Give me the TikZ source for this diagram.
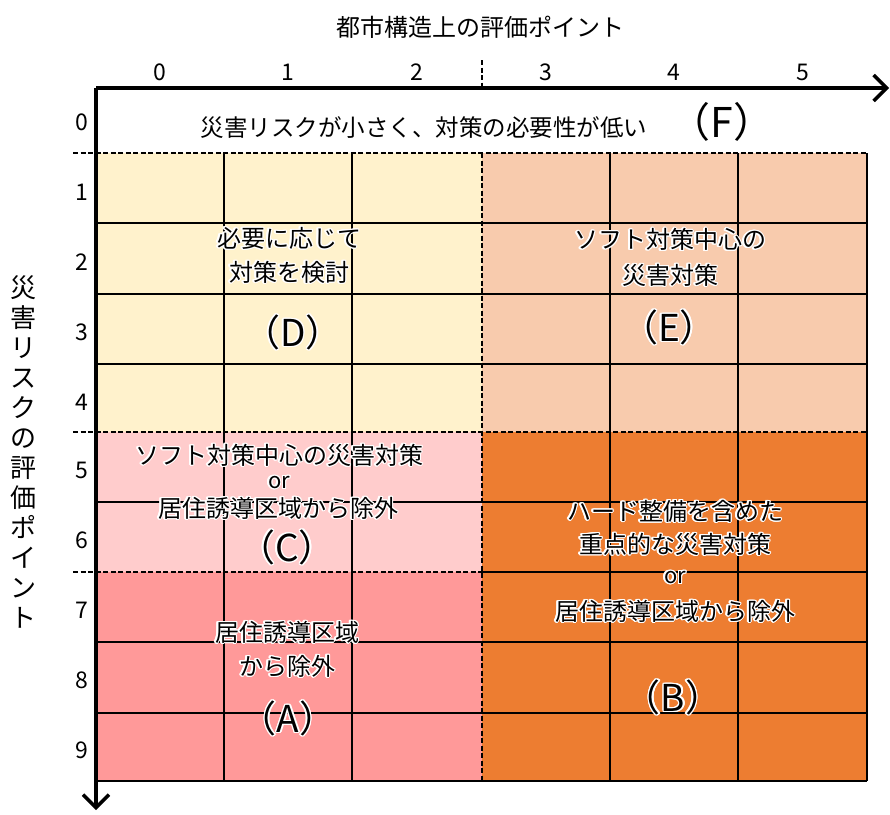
\documentclass[tikz,border=0pt]{standalone}
\usepackage{fontspec}
\setmainfont{Noto Sans CJK JP}
\usepackage[copies]{contour}
\contourlength{1.3pt}
\usetikzlibrary{arrows.meta}
\definecolor{cD}{HTML}{FFF2CC}
\definecolor{cE}{HTML}{F8CBAD}
\definecolor{cC}{HTML}{FFCCCC}
\definecolor{cA}{HTML}{FF9999}
\definecolor{cB}{HTML}{ED7D31}
\newcommand\hl[1]{\contour{white}{#1}}
\begin{document}
\begin{tikzpicture}[x=1pt,y=-1pt,
  gridline/.style={line width=1.4pt},
  divline/.style={line width=2.4pt, dash pattern=on 5pt off 2.5pt},
  axisline/.style={line width=4.5pt, -{Straight Barb[length=13pt,width=26pt,line width=3.5pt]}},
  lbl/.style={inner sep=0pt, font=\fontsize{24}{28}\selectfont},
  orlbl/.style={inner sep=0pt, font=\fontsize{22}{26}\selectfont},
  big/.style={inner sep=0pt, font=\fontsize{37}{42}\selectfont},
  num/.style={inner sep=0pt, font=\fontsize{23}{26}\selectfont}]
\useasboundingbox (0,0) rectangle (890,814);
% region fills
\fill[cD] (96,153) rectangle (482,432);
\fill[cE] (482,153) rectangle (867,432);
\fill[cC] (96,432) rectangle (482,572);
\fill[cA] (96,572) rectangle (482,781);
\fill[cB] (482,432) rectangle (867,781);
% grid lines
\foreach \x in {224,352,610,738,867} \draw[gridline] (\x,153) -- (\x,781);
\foreach \y in {223,294,364,502,642,713} \draw[gridline] (96,\y) -- (867,\y);
\draw[gridline] (482,572) -- (867,572);
\draw[gridline] (96,781) -- (867,781);
% dashed dividers
\draw[divline] (73,153) -- (867,153);
\draw[divline] (73,432) -- (867,432);
\draw[divline] (73,572) -- (482,572);
\draw[divline] (482,153) -- (482,781);
\draw[divline] (482,60) -- (482,88);
% axes
\coordinate (o) at (96,88);
\coordinate (xend) at (889,88);
\coordinate (yend) at (96,810);
\draw[axisline] (o) -- (xend);
\draw[axisline] (o) -- (yend);
% axis titles
\node[lbl] (xtitle) at (480,27) {都市構造上の評価ポイント};
\node[inner sep=0pt, align=center, font=\fontsize{26}{30}\selectfont] (ytitle) at (23,452)
  {災\\害\\リ\\ス\\ク\\の\\評\\価\\ポ\\イ\\ン\\ト};
% column numbers
\foreach \i/\x in {0/160,1/288,2/417,3/546,4/674,5/803}
  \node[num] (c\i) at (\x,72) {\i};
% row numbers
\foreach \i/\y in {0/122,1/192,2/262,3/332,4/402,5/470,6/540,7/610,8/680,9/750}
  \node[num] (r\i) at (82,\y) {\i};
% F
\node[lbl, font=\fontsize{23.5}{28}\selectfont] (ftext) at (424,128) {災害リスクが小さく、対策の必要性が低い};
\node[big, font=\fontsize{41}{46}\selectfont] (fl) at (722,122) {（F）};
% D
\node[lbl] (d1) at (289,239) {\hl{必要に応じて}};
\node[lbl] (d2) at (289,273) {\hl{対策を検討}};
\node[big] (dl) at (293,333) {\hl{（D）}};
% E
\node[lbl] (e1) at (670,240) {\hl{ソフト対策中心の}};
\node[lbl] (e2) at (670,276) {\hl{災害対策}};
\node[big] (el) at (669,328) {\hl{（E）}};
% C
\node[lbl] (c1t) at (279,456) {\hl{ソフト対策中心の災害対策}};
\node[orlbl] (c2t) at (279,483) {\hl{or}};
\node[lbl] (c3t) at (278,509) {\hl{居住誘導区域から除外}};
\node[big] (cl) at (287,548) {\hl{（C）}};
% A
\node[lbl] (a1) at (287,633) {\hl{居住誘導区域}};
\node[lbl] (a2) at (287,667) {\hl{から除外}};
\node[big] (al) at (288,719) {\hl{（A）}};
% B
\node[lbl] (b1) at (675,512) {\hl{ハード整備を含めた}};
\node[lbl] (b2) at (675,545) {\hl{重点的な災害対策}};
\node[orlbl] (b3) at (675,578) {\hl{or}};
\node[lbl] (b4) at (675,612) {\hl{居住誘導区域から除外}};
\node[big] (bl) at (673,698) {\hl{（B）}};
\end{tikzpicture}
\end{document}
